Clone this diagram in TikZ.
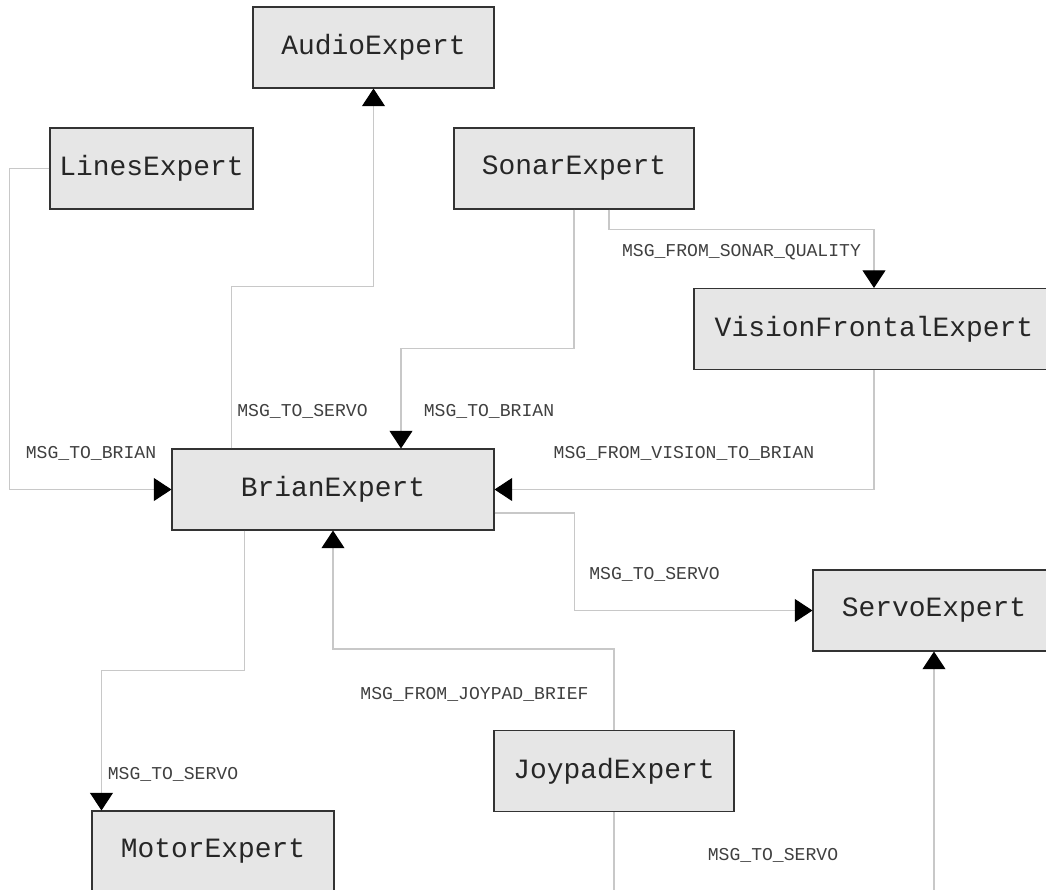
\documentclass[tikz,border=0pt]{standalone}
\usepackage{fontspec}
\setmonofont{Liberation Mono}
\usetikzlibrary{arrows.meta,calc}
\definecolor{boxfill}{HTML}{E6E6E6}
\definecolor{boxline}{HTML}{333333}
\definecolor{wire}{HTML}{C8C8C8}
\tikzset{
  expert/.style={draw=boxline, line width=0.6pt, fill=boxfill, text=black!85,
    minimum height=81*0.02cm, inner sep=0pt, font=\ttfamily\fontsize{15.9}{18}\selectfont},
  msg/.style={text=black!75, inner sep=0pt, font=\ttfamily\fontsize{10.3}{12}\selectfont},
  conn/.style={draw=wire, line width=0.6pt, -{Triangle[width=13pt,length=10pt,color=black]}}
}

\begin{document}
\begin{tikzpicture}[x=0.02cm, y=-0.02cm]
\useasboundingbox (0,0) rectangle (1046,890);
\clip (0,0) rectangle (1046,890);
\fill[white] (0,0) rectangle (1046,890);

% experts
\node [expert, minimum width=241*0.02cm] (audio) at (373.5,47.5) {AudioExpert};
\node [expert, minimum width=203*0.02cm] (lines) at (151.5,168.5) {LinesExpert};
\node [expert, minimum width=240*0.02cm] (sonar) at (574,168.5) {SonarExpert};
\node [expert, minimum width=360*0.02cm] (vision) at (874,329) {VisionFrontalExpert};
\node [expert, minimum width=322*0.02cm] (brian) at (333,489.5) {BrianExpert};
\node [expert, minimum width=242*0.02cm] (servo) at (934,610.5) {ServoExpert};
\node [expert, minimum width=240*0.02cm] (joypad) at (614,771) {JoypadExpert};
\node [expert, minimum width=242*0.02cm] (motor) at (213,851.5) {MotorExpert};

% messages
\draw [conn] (lines.west) -- ++(-40,0) |- (brian.west);
\draw [conn] ($(brian.north west)+(60,0)$) -- ++(0,-162) -| (audio.south);
\draw [conn] (sonar.south) -- ++(0,139) -| ($(brian.north)+(68,0)$);
\draw [conn] ($(sonar.south)+(35,0)$) -- ++(0,20) -| (vision.north);
\draw [conn] (vision.south) |- (brian.east);
\draw [conn] ($(brian.east)+(0,23.5)$) -- ++(80,0) |- (servo.west);
\draw [conn] ($(brian.south west)+(73,0)$) -- ++(0,140) -| ($(motor.north west)+(10,0)$);
\draw [conn] (joypad.north) -- ++(0,-81) -| (brian.south);
\draw [conn] (joypad.south) -- ++(0,110) -| (servo.south);

% labels
\node [msg] (m_lines) at (91,453) {MSG\_TO\_BRIAN};
\node [msg] (m_audio) at (302.5,411) {MSG\_TO\_SERVO};
\node [msg] (m_sonar) at (489,411) {MSG\_TO\_BRIAN};
\node [msg] (m_quality) at (741.5,252) {MSG\_FROM\_SONAR\_QUALITY};
\node [msg] (m_vision) at (684,453) {MSG\_FROM\_VISION\_TO\_BRIAN};
\node [msg] (m_servo) at (654.5,574) {MSG\_TO\_SERVO};
\node [msg] (m_motor) at (173,774) {MSG\_TO\_SERVO};
\node [msg] (m_joypad) at (474.5,694) {MSG\_FROM\_JOYPAD\_BRIEF};
\node [msg] (m_joyservo) at (773,855) {MSG\_TO\_SERVO};
\end{tikzpicture}
\end{document}
